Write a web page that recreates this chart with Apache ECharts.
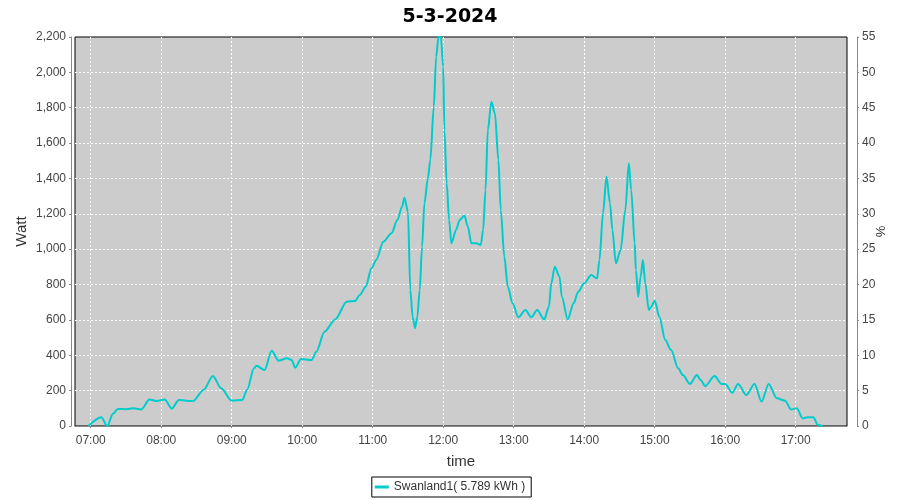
<!DOCTYPE html>
<html>
<head>
<meta charset="utf-8">
<script src="https://cdn.jsdelivr.net/npm/echarts@6/dist/echarts.min.js"></script>
<style>html,body{margin:0;padding:0;background:#fff}#c{width:900px;height:500px}</style>
</head>
<body>
<div id="c"></div>
<script>
const chartTitle = '5-3-2024';
const seriesName = 'Swanland1( 5.789 kWh )';
const times = ['06:58','07:09','07:14','07:19','07:23','07:30','07:36','07:43','07:50','07:56','08:03','08:09','08:15','08:21','08:27','08:36','08:44','08:51','09:00','09:09','09:13','09:19','09:21','09:28','09:34','09:40','09:47','09:51','09:54','09:59','10:08','10:12','10:19','10:28','10:38','10:45','10:49','10:54','10:59','11:03','11:09','11:16','11:21','11:25','11:27','11:30','11:32','11:34','11:36','11:38','11:40','11:42','11:44','11:47','11:49','11:52','11:54','11:56','11:58','12:00','12:01','12:03','12:05','12:07','12:11','12:14','12:18','12:21','12:24','12:28','12:32','12:34','12:36','12:38','12:41','12:44','12:47','12:49','12:52','12:55','12:59','13:04','13:10','13:15','13:20','13:26','13:30','13:32','13:35','13:39','13:41','13:46','13:51','13:55','14:00','14:06','14:11','14:13','14:16','14:19','14:22','14:24','14:27','14:31','14:35','14:38','14:40','14:43','14:44','14:46','14:48','14:50','14:52','14:55','14:57','15:00','15:04','15:09','15:14','15:20','15:24','15:30','15:36','15:39','15:43','15:51','15:57','16:00','16:06','16:11','16:18','16:25','16:31','16:37','16:44','16:51','16:56','17:01','17:06','17:10','17:15','17:19','17:23'];
const watts = [0,50,0,70,96,95,100,94,150,141,150,98,147,143,141,204,283,213,143,147,204,326,341,317,426,369,383,373,330,379,373,420,533,603,703,707,741,788,892,939,1042,1090,1165,1240,1291,1212,769,618,553,618,769,1014,1259,1401,1504,1806,2089,2200,2200,2032,1674,1373,1165,1033,1110,1165,1190,1127,1033,1033,1024,1108,1335,1674,1834,1769,1504,1222,958,788,694,615,656,615,656,603,675,807,901,844,731,603,694,760,807,854,835,939,1203,1410,1259,1108,920,995,1222,1486,1335,1033,882,731,844,939,807,656,675,709,618,486,430,326,288,238,288,260,226,283,238,238,188,238,175,238,137,238,157,143,94,100,43,50,50,6,0];
const wattTicks = {min: 0, max: 2200, interval: 200};
const pctTicks = {min: 0, max: 55, interval: 5};

function ts(hm, s) {
  const p = hm.split(':');
  return Date.UTC(2024, 2, 5, +p[0], +p[1], s || 0);
}
const data = times.map((t, i) => [ts(t), watts[i]]);
const xMin = ts('06:46', 36), xMax = ts('17:43', 42);

const font = 'Liberation Sans';
const labelColor = '#444';
const axisColor = '#888';
const gridLine = {show: true, showMinLine: false, showMaxLine: false,
  lineStyle: {color: '#fff', type: [2, 2], width: 1}};

const chart = echarts.init(document.getElementById('c'), null, {renderer: 'canvas'});
chart.setOption({
  useUTC: true,
  animation: false,
  backgroundColor: '#fff',
  title: {
    text: chartTitle, left: 'center', top: 3,
    textStyle: {fontFamily: 'DejaVu Sans', fontSize: 19, fontWeight: 'bold', color: '#000'}
  },
  legend: {
    bottom: 3, left: 'center',
    data: [{name: seriesName, icon: 'rect'}],
    itemWidth: 14, itemHeight: 3, itemGap: 4,
    borderColor: '#000', borderWidth: 1, borderRadius: 0,
    padding: [4, 6, 4, 3],
    textStyle: {fontFamily: font, fontSize: 12, color: '#333'}
  },
  grid: {
    left: 75, right: 53, top: 37, bottom: 74,
    outerBoundsMode: 'none', containLabel: false,
    show: true, backgroundColor: '#cccccc', borderColor: '#000', borderWidth: 1
  },
  xAxis: {
    type: 'time', min: xMin, max: xMax,
    minInterval: 3600000, maxInterval: 3600000,
    offset: 4,
    name: 'time', nameLocation: 'middle', nameGap: 24, nameMoveOverlap: false,
    nameTextStyle: {fontFamily: font, fontSize: 15, color: '#333'},
    axisLine: {show: true, lineStyle: {color: axisColor}},
    axisTick: {show: true, length: 2, lineStyle: {color: axisColor}},
    axisLabel: {
      formatter: '{HH}:{mm}', fontFamily: font, fontSize: 12, color: labelColor, margin: 5,
      hideOverlap: false
    },
    splitLine: gridLine
  },
  yAxis: [{
    type: 'value', min: wattTicks.min, max: wattTicks.max, interval: wattTicks.interval,
    position: 'left', offset: 4,
    name: 'Watt', nameLocation: 'middle', nameGap: 42, nameRotate: 90, nameMoveOverlap: false,
    nameTextStyle: {fontFamily: font, fontSize: 15, color: '#333'},
    axisLine: {show: true, lineStyle: {color: axisColor}},
    axisTick: {show: true, length: 2, lineStyle: {color: axisColor}},
    axisLabel: {
      fontFamily: font, fontSize: 12, color: labelColor, margin: 5,
      formatter: v => v.toLocaleString('en-US')
    },
    splitLine: gridLine
  }, {
    type: 'value', min: pctTicks.min, max: pctTicks.max, interval: pctTicks.interval,
    position: 'right', offset: 10,
    name: '%', nameLocation: 'middle', nameGap: 18, nameRotate: 90, nameMoveOverlap: false,
    nameTextStyle: {fontFamily: font, fontSize: 13, color: '#333'},
    axisLine: {show: true, lineStyle: {color: axisColor}},
    axisTick: {show: true, length: 2, lineStyle: {color: axisColor}},
    axisLabel: {fontFamily: font, fontSize: 12, color: labelColor, margin: 5},
    splitLine: {show: false}
  }],
  series: [{
    name: seriesName, type: 'line', yAxisIndex: 0,
    data: data, showSymbol: false, symbol: 'none',
    smooth: 0.3, smoothMonotone: 'x',
    lineStyle: {color: '#00cccc', width: 2},
    itemStyle: {color: '#00cccc'},
    clip: true
  }]
});
</script>
</body>
</html>
